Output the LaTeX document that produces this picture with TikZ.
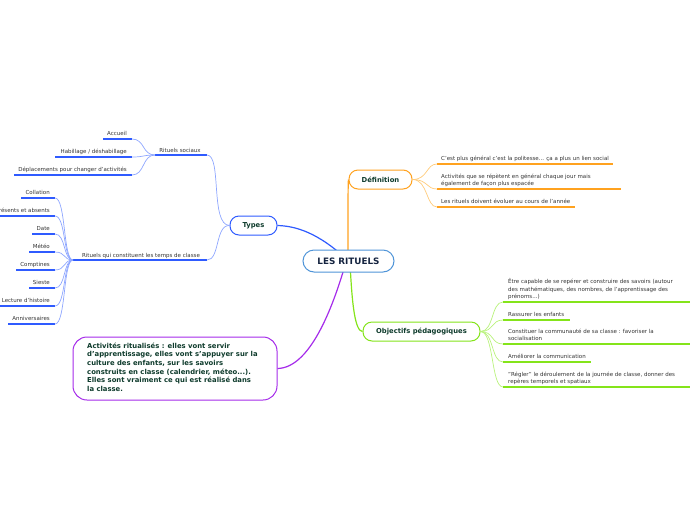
\documentclass[tikz,border=0pt]{standalone}
\usepackage{fontspec}
\setmainfont{DejaVu Sans}
\pgfdeclarelayer{bg}
\pgfsetlayers{bg,main}
\definecolor{tblue}{HTML}{2F5BFF}
\definecolor{tblueL}{HTML}{8EA6FF}
\definecolor{orng}{HTML}{FFA21F}
\definecolor{orngL}{HTML}{FFCB7A}
\definecolor{grn}{HTML}{84E41A}
\definecolor{grnL}{HTML}{B9F27C}
\definecolor{purp}{HTML}{A52BEA}
\definecolor{cblue}{HTML}{4F94D8}
\definecolor{dgreen}{HTML}{0E3B2C}
\definecolor{navy}{HTML}{14233F}
\definecolor{txt}{HTML}{333333}
\newcommand\smf{\fontsize{5.5}{7.3}\selectfont}
\tikzset{
  topic/.style={draw, fill=white, line width=1pt, rounded corners=9pt, inner sep=0pt,
     minimum height=19pt, text=dgreen, font=\fontsize{6.8}{8}\selectfont\bfseries},
  leaf/.style={text=txt, font=\smf, inner sep=0pt},
  ulb/.style={tblue, line width=1.3pt},
  cnb/.style={tblueL, line width=0.7pt},
  ulo/.style={orng, line width=1.3pt},
  cno/.style={orngL, line width=0.7pt},
  ulg/.style={grn, line width=1.3pt},
  cng/.style={grnL, line width=0.7pt},
}
\begin{document}
\begin{tikzpicture}[x=1pt,y=-1pt]
\useasboundingbox (0,0) rectangle (696,520);

% main nodes
\node[draw=cblue, fill=white, line width=1pt, rounded corners=11pt, minimum width=91pt,
  minimum height=22pt, inner sep=0pt, text=navy, font=\fontsize{8.8}{10}\selectfont\bfseries]
  (c) at (348.5,261) {LES RITUELS};
\node[topic, draw=tblue, minimum width=47pt] (ty) at (253.5,225.5) {Types};
\node[topic, draw=orng, minimum width=63pt] (def) at (380.5,179.5) {Définition};
\node[topic, draw=grn, minimum width=117pt] (obj) at (421.5,331.5) {Objectifs pédagogiques};
\node[draw=purp, fill=white, line width=1pt, rounded corners=14pt, minimum width=204pt,
  minimum height=63pt, inner sep=0pt] (act) at (175,368.5) {};
\node[anchor=north west, align=left, inner sep=0pt, text=dgreen,
  font=\fontsize{6.85}{8.7}\selectfont\bfseries] (actt) at (87,342.5)
  {Activités ritualisés : elles vont servir\\
   d'apprentissage, elles vont s'appuyer sur la\\
   culture des enfants, sur les savoirs\\
   construits en classe (calendrier, méteo...).\\
   Elles sont vraiment ce qui est réalisé dans\\
   la classe.};

\begin{pgfonlayer}{bg}
% main connectors
\draw[tblue, line width=1.2pt] (c.center) .. controls (318,232) and (295,226) .. (ty.east);
\draw[orng, line width=1.2pt] (348,262) .. controls (348,200) and (348,182) .. (def.west);
\draw[grn, line width=1.2pt] (350,262) .. controls (352,305) and (355,331) .. (obj.west);
\draw[purp, line width=1.2pt] (346,262) .. controls (335,300) and (312,368) .. (act.east);
\end{pgfonlayer}

% ---------- Types ----------
\coordinate (rsl) at (155,155); \coordinate (rsr) at (207,155);
\draw[ulb] (rsl) -- (rsr);
\node[leaf, anchor=base] (rs) at (180,152.5) {Rituels sociaux};
\coordinate (rtl) at (73,260); \coordinate (rtr) at (207,260);
\draw[ulb] (rtl) -- (rtr);
\node[leaf, anchor=base] (rt) at (141,257) {Rituels qui constituent les temps de classe};
\draw[cnb] (ty.west) .. controls (210,225) and (222,155) .. (rsr);
\draw[cnb] (ty.west) .. controls (215,225) and (220,260) .. (rtr);

% Rituels sociaux children
\foreach \n/\y/\xl/\t in {s1/139/103/{Accueil}, s2/157/55/{Habillage / déshabillage},
   s3/175/14/{Déplacements pour changer d'activités}}{
  \coordinate (\n l) at (\xl,\y); \coordinate (\n r) at (132,\y);
  \draw[ulb] (\n l) -- (\n r);
  \node[leaf, anchor=base east] (\n) at (127,\y-3.5) {\t};
  \draw[cnb] (rsl) .. controls (142,155) and (145,\y) .. (\n r);
}

% Temps de classe children
\foreach \n/\y/\xl/\t in {t1/198/21/Collation, t2/216/-5/Présents et absents, t3/234/32/Date,
   t4/252/29/Météo, t5/270/16/Comptines, t6/288/29/Sieste, t7/306/0/Lecture d'histoire,
   t8/324/8/Anniversaires}{
  \coordinate (\n l) at (\xl,\y); \coordinate (\n r) at (55,\y);
  \draw[ulb] (\n l) -- (\n r);
  \node[leaf, anchor=base east] (\n) at (50,\y-3.5) {\t};
  \draw[cnb] (rtl) .. controls (63,260) and (66,\y) .. (\n r);
}

% ---------- Définition ----------
\coordinate (d1l) at (437,164); \coordinate (d1r) at (613,164);
\coordinate (d2l) at (437,189); \coordinate (d2r) at (621,189);
\coordinate (d3l) at (437,207); \coordinate (d3r) at (575,207);
\foreach \n in {d1,d2,d3}{
  \draw[ulo] (\n l) -- (\n r);
}
\draw[cno] (def.east) .. controls (428,179.5) and (426,164) .. (d1l);
\draw[cno] (def.east) .. controls (428,179.5) and (426,189) .. (d2l);
\draw[cno] (def.east) .. controls (428,179.5) and (426,207) .. (d3l);
\node[leaf, anchor=base west] (d1) at (441,160.5) {C'est plus général c'est la politesse... ça a plus un lien social};
\node[leaf, anchor=base west, align=left] (d2) at (441,185.5)
  {Activités que se répètent en général chaque jour mais\\également de façon plus espacée};
\node[leaf, anchor=base west] (d3) at (441,203.5) {Les rituels doivent évoluer au cours de l'année};

% ---------- Objectifs ----------
\foreach \n/\y/\xr in {o1/302/690, o2/320/570, o3/344/690, o4/362/591, o5/387/690}{
  \coordinate (\n l) at (503,\y); \coordinate (\n r) at (\xr,\y);
  \draw[ulg] (\n l) -- (\n r);
  \draw[cng] (obj.east) .. controls (494,331.5) and (491,\y) .. (\n l);
}
\node[leaf, anchor=base west, align=left] (o1) at (508,298.5)
  {Être capable de se repérer et construire des savoirs (autour\\des mathématiques, des nombres, de l'apprentissage des\\prénoms...)};
\node[leaf, anchor=base west] (o2) at (508,316.5) {Rassurer les enfants};
\node[leaf, anchor=base west, align=left] (o3) at (508,340.5)
  {Constituer la communauté de sa classe : favoriser la\\socialisation};
\node[leaf, anchor=base west] (o4) at (508,358.5) {Améliorer la communication};
\node[leaf, anchor=base west, align=left] (o5) at (508,383.5)
  {"Régler" le déroulement de la journée de classe, donner des\\repères temporels et spatiaux};
\end{tikzpicture}
\end{document}
